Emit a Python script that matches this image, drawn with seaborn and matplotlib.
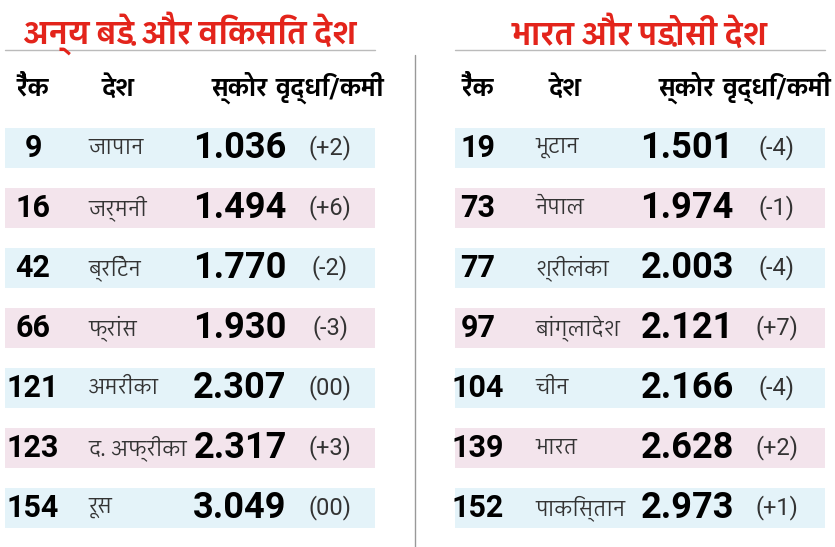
import matplotlib
matplotlib.use("Agg")
import matplotlib.pyplot as plt
from matplotlib import font_manager
import seaborn as sns

sns.set_theme(style="white")
fams = [f.name for f in font_manager.fontManager.ttflist]
dev = [n for n in fams if "Devanagari" in n or "Lohit" in n or "Mukta" in n]
FONT = (dev[:1] or []) + ["Noto Sans", "DejaVu Sans"]
plt.rcParams["font.family"] = FONT
NUMF = ["Liberation Sans Narrow", "Roboto", "DejaVu Sans"]

left_title = "अन्य बड़े और विकसित देश"
right_title = "भारत और पड़ोसी देश"
headers = ["रैंक", "देश", "स्कोर", "वृद्धि/कमी"]

left_rank = [9, 16, 42, 66, 121, 123, 154]
left_country = ["जापान", "जर्मनी", "ब्रिटेन", "फ्रांस", "अमरीका", "द. अफ्रीका", "रूस"]
left_score = ["1.036", "1.494", "1.770", "1.930", "2.307", "2.317", "3.049"]
left_change = ["(+2)", "(+6)", "(-2)", "(-3)", "(00)", "(+3)", "(00)"]

right_rank = [19, 73, 77, 97, 104, 139, 152]
right_country = ["भूटान", "नेपाल", "श्रीलंका", "बांग्लादेश", "चीन", "भारत", "पाकिस्तान"]
right_score = ["1.501", "1.974", "2.003", "2.121", "2.166", "2.628", "2.973"]
right_change = ["(-4)", "(-1)", "(-4)", "(+7)", "(-4)", "(+2)", "(+1)"]

fig = plt.figure(figsize=(8.35, 5.47), dpi=100)
ax = fig.add_axes([0, 0, 1, 1])
ax.set_xlim(0, 835)
ax.set_ylim(547, 0)
ax.axis("off")

row_y = [148 + 60 * i for i in range(7)]
band_cols = ["#e4f3f9", "#f3e4ec"]
RED = "#e3241b"

def table(x0, x1, title, rank, country, score, change, xs):
    ax.barh(row_y, x1 - x0, left=x0, height=40,
            color=[band_cols[i % 2] for i in range(7)], edgecolor="none")
    ax.text((x0 + x1) / 2, 33, title, color=RED, fontsize=22, fontweight="bold",
            ha="center", va="center")
    ax.plot([x0, x1], [50, 50], color="#bbbbbb", lw=1)
    hx = [xs[0], xs[1] + 30, xs[2], xs[3]]
    for h, x in zip(headers, hx):
        ax.text(x, 88, h, fontsize=17, fontweight="bold", ha="center", va="center", color="#000")
    for i, y in enumerate(row_y):
        ax.text(xs[0], y, str(rank[i]), fontsize=22, fontweight="bold", family=NUMF,
                ha="center", va="center", color="#000")
        ax.text(xs[1], y, country[i], fontsize=15, ha="left", va="center", color="#333")
        ax.text(xs[2], y, score[i], fontsize=26, fontweight="bold", family=NUMF,
                ha="center", va="center", color="#000")
        ax.text(xs[3], y, change[i], fontsize=17, family=NUMF, ha="center", va="center", color="#333")

table(5, 375, left_title, left_rank, left_country, left_score, left_change, [33, 88, 240, 330])
table(455, 825, right_title, right_rank, right_country, right_score, right_change, [478, 535, 687, 777])
ax.plot([415, 415], [55, 547], color="#999999", lw=1)

fig.savefig("out.png", dpi=100)
